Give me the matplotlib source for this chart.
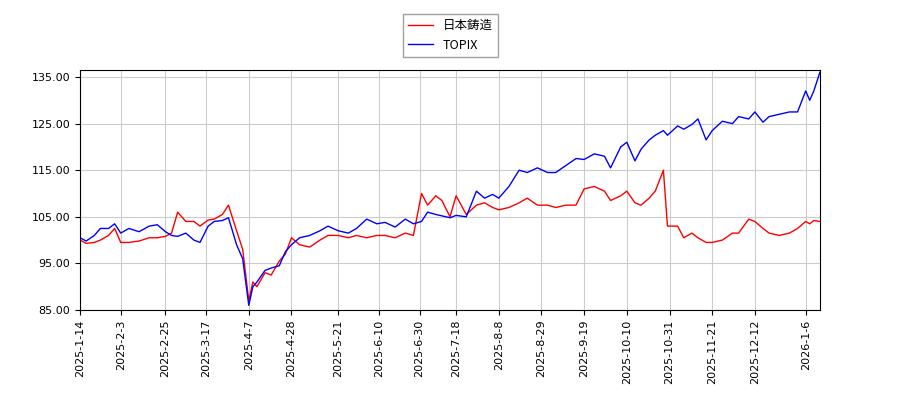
import matplotlib
matplotlib.use("Agg")
import matplotlib.pyplot as plt
import pandas as pd

dates = ["2025-01-14","2025-01-17","2025-01-21","2025-01-24","2025-01-28","2025-01-31","2025-02-03","2025-02-07","2025-02-12","2025-02-17","2025-02-21","2025-02-25","2025-02-28","2025-03-03","2025-03-07","2025-03-11","2025-03-14","2025-03-18","2025-03-21","2025-03-25","2025-03-28","2025-04-01","2025-04-04","2025-04-07","2025-04-09","2025-04-11","2025-04-15","2025-04-18","2025-04-22","2025-04-25","2025-04-28","2025-05-02","2025-05-07","2025-05-12","2025-05-16","2025-05-21","2025-05-26","2025-05-30","2025-06-04","2025-06-09","2025-06-13","2025-06-18","2025-06-23","2025-06-27","2025-07-01","2025-07-04","2025-07-08","2025-07-11","2025-07-15","2025-07-18","2025-07-23","2025-07-28","2025-08-01","2025-08-05","2025-08-08","2025-08-13","2025-08-18","2025-08-22","2025-08-27","2025-09-01","2025-09-05","2025-09-10","2025-09-15","2025-09-19","2025-09-24","2025-09-29","2025-10-02","2025-10-07","2025-10-10","2025-10-14","2025-10-17","2025-10-21","2025-10-24","2025-10-28","2025-10-30","2025-11-04","2025-11-07","2025-11-11","2025-11-14","2025-11-18","2025-11-21","2025-11-26","2025-12-01","2025-12-04","2025-12-09","2025-12-12","2025-12-16","2025-12-19","2025-12-24","2025-12-29","2026-01-02","2026-01-06","2026-01-08","2026-01-10","2026-01-13"]
nippon = [100,99.3,99.5,100,101,102.5,99.5,99.5,99.8,100.5,100.5,100.8,101.5,106,104,104,103,104.3,104.5,105.5,107.5,102,98,87,91,90,93,92.5,95.5,97,100.5,99,98.5,100,101,101,100.5,101,100.5,101,101,100.5,101.5,101,110,107.5,109.5,108.5,105,109.5,105.5,107.5,108,107,106.5,107,108,109,107.5,107.5,107,107.5,107.5,111,111.5,110.5,108.5,109.5,110.5,108,107.5,109,110.5,115,103,103,100.5,101.5,100.5,99.5,99.5,100,101.5,101.5,104.5,104,102.5,101.5,101,101.5,102.5,104,103.5,104.2,104]
topix = [100.5,99.8,101,102.5,102.5,103.5,101.5,102.5,101.8,103,103.3,101.8,101,100.8,101.5,100,99.5,103,104,104.2,104.8,99,96,86,90,91,93.5,94,94.5,97.5,99,100.5,101,102,103,102,101.5,102.5,104.5,103.5,103.8,102.8,104.5,103.5,104,106,105.5,105.2,104.8,105.3,105,110.5,109,109.8,109,111.5,115,114.5,115.5,114.5,114.5,116,117.5,117.3,118.5,118,115.5,120,121,117,119.5,121.5,122.5,123.5,122.5,124.5,123.8,124.8,126,121.5,123.5,125.5,125,126.5,126,127.5,125.3,126.5,127,127.5,127.5,132,130,132,136]
tick_dates = ["2025-1-14","2025-2-3","2025-2-25","2025-3-17","2025-4-7","2025-4-28","2025-5-21","2025-6-10","2025-6-30","2025-7-18","2025-8-8","2025-8-29","2025-9-19","2025-10-10","2025-10-31","2025-11-21","2025-12-12","2026-1-6"]
yticks = [85, 95, 105, 115, 125, 135]

x = pd.to_datetime(dates)
fig = plt.figure(figsize=(9, 4), dpi=100)
ax = fig.add_axes([0.089, 0.225, 0.822, 0.6])
ax.plot(x, nippon, color="red", lw=1, label="日本鋳造")
ax.plot(x, topix, color="blue", lw=1, label="TOPIX")
ax.set_xticks(pd.to_datetime(tick_dates))
ax.set_xticklabels(tick_dates, rotation=90, fontsize=8, family="DejaVu Sans")
ax.set_yticks(yticks)
ax.set_yticklabels([f"{v:.2f}" for v in yticks], fontsize=8)
ax.set_ylim(85, 136.5)
ax.set_xlim(x[0], x[-1])
ax.grid(True, color="#cccccc")
ax.legend(loc="lower center", bbox_to_anchor=(0.5, 1.03), prop={"family": ["Noto Sans CJK JP", "DejaVu Sans"], "size": 9}, fancybox=False, edgecolor="#888888")
fig.savefig("out.png")
